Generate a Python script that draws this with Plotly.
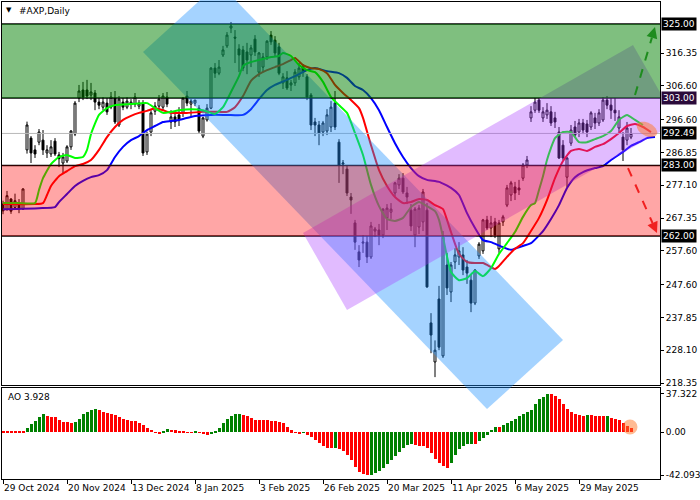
import math
import plotly.graph_objects as go

# ---------------- data ----------------
date_labels = ["29 Oct 2024", "20 Nov 2024", "13 Dec 2024", "8 Jan 2025", "3 Feb 2025",
               "26 Feb 2025", "20 Mar 2025", "11 Apr 2025", "6 May 2025", "29 May 2025"]
label_bars = [0, 16, 32, 48, 64, 80, 96, 112, 128, 144]

opens = [271.5, 269.9, 273.0, 270.5, 271.5, 270.0, 287.6, 291.1, 287.6, 289.9,
         290.5, 286.7, 286.4, 290.2, 286.1, 283.7, 284.3, 288.5, 292.3, 303.0,
         305.4, 305.4, 303.9, 304.5, 301.8, 300.3, 301.5, 300.3, 303.0, 295.0,
         301.8, 300.3, 301.2, 301.2, 300.6, 301.5, 287.0, 292.9, 299.1, 300.6,
         300.3, 303.3, 295.9, 297.4, 298.0, 298.6, 303.6, 301.2, 301.5, 300.0,
         291.7, 296.5, 300.0, 311.9, 310.4, 315.8, 318.5, 323.8, 321.1, 317.6,
         317.3, 316.7, 315.8, 320.5, 310.7, 312.2, 315.2, 321.7, 320.2, 318.2,
         307.5, 309.0, 306.9, 307.5, 309.3, 312.2, 309.3, 303.9, 295.9, 295.0,
         292.9, 293.2, 294.4, 301.5, 289.9, 283.4, 281.9, 273.6, 265.9, 257.3,
         259.9, 260.2, 255.8, 263.5, 263.8, 262.3, 267.4, 269.1, 274.8, 277.2,
         279.2, 274.8, 269.7, 262.3, 264.7, 266.2, 269.7, 236.2, 224.6, 243.3,
         226.4, 253.4, 245.4, 254.3, 255.8, 256.4, 252.8, 248.9, 242.1, 256.1,
         257.6, 266.8, 264.4, 266.2, 258.2, 266.2, 271.2, 274.2, 276.6, 276.3,
         279.2, 283.1, 297.1, 299.4, 302.4, 297.1, 298.0, 298.9, 297.1, 292.9,
         289.0, 279.5, 289.6, 294.4, 292.9, 295.6, 295.3, 294.4, 297.1, 295.6,
         296.5, 302.4, 300.9, 299.4, 294.1, 291.4, 290.5, 291.4]
highs = [272.5, 275.4, 273.3, 274.6, 273.0, 276.2, 296.0, 291.7, 289.0, 293.8,
         293.5, 289.0, 290.5, 291.1, 287.0, 286.7, 289.0, 293.5, 302.1, 306.9,
         307.8, 308.4, 307.5, 305.4, 303.0, 303.3, 303.0, 304.8, 305.1, 303.6,
         303.0, 303.3, 302.7, 304.5, 302.4, 302.4, 293.0, 299.4, 301.8, 303.9,
         304.5, 304.8, 299.4, 298.9, 300.3, 303.3, 305.1, 302.7, 302.4, 300.9,
         297.4, 301.2, 312.2, 313.4, 314.3, 318.5, 322.6, 325.6, 323.2, 319.0,
         318.5, 319.4, 318.8, 321.7, 316.7, 316.4, 320.2, 322.9, 321.4, 319.4,
         310.4, 311.0, 308.4, 311.6, 313.4, 313.1, 310.1, 304.5, 297.1, 296.2,
         296.2, 299.7, 302.1, 305.1, 290.8, 284.6, 283.1, 274.8, 266.8, 259.3,
         262.3, 262.0, 266.2, 264.7, 265.6, 270.3, 271.5, 271.8, 278.1, 280.4,
         280.7, 276.6, 271.5, 270.6, 271.2, 276.0, 271.8, 239.1, 231.0, 247.2,
         263.5, 257.0, 254.3, 258.4, 260.2, 258.7, 254.9, 250.7, 252.2, 260.2,
         267.1, 268.0, 268.0, 267.4, 266.8, 268.3, 277.2, 278.4, 278.1, 278.7,
         283.7, 285.8, 300.6, 303.0, 303.0, 300.3, 301.5, 300.6, 298.9, 294.4,
         290.5, 285.5, 295.0, 296.2, 296.8, 296.8, 296.5, 299.1, 298.6, 299.7,
         303.3, 303.6, 303.0, 303.0, 299.4, 292.9, 295.9, 294.1]
lows = [268.5, 269.5, 268.6, 270.0, 268.8, 269.8, 286.5, 283.7, 285.2, 289.0,
        286.1, 285.2, 285.5, 285.8, 282.5, 280.7, 283.7, 287.6, 291.7, 301.8,
        302.4, 302.7, 302.4, 299.4, 299.7, 299.4, 298.0, 299.7, 295.3, 294.4,
        299.4, 299.7, 299.7, 300.3, 299.7, 285.8, 286.1, 291.7, 298.0, 299.7,
        299.4, 300.3, 293.8, 294.4, 294.7, 297.4, 300.6, 297.4, 300.6, 292.6,
        291.1, 296.0, 299.7, 309.0, 309.8, 315.2, 317.9, 322.3, 313.4, 310.7,
        311.0, 310.1, 312.2, 315.5, 309.3, 310.7, 314.3, 318.8, 315.2, 309.8,
        305.7, 305.4, 305.1, 306.6, 308.4, 309.3, 302.4, 293.5, 291.7, 289.0,
        291.7, 292.0, 292.9, 293.5, 277.8, 280.4, 273.9, 268.6, 257.9, 252.8,
        257.0, 254.0, 255.2, 261.7, 259.3, 261.4, 263.8, 267.1, 273.9, 276.0,
        274.5, 271.5, 263.5, 258.7, 262.6, 263.5, 246.6, 227.2, 220.1, 228.1,
        225.8, 244.5, 242.4, 252.2, 253.4, 250.4, 247.8, 239.4, 241.5, 255.2,
        256.7, 263.8, 261.7, 261.4, 257.0, 265.0, 270.6, 272.4, 272.7, 274.2,
        278.4, 282.2, 295.9, 298.6, 298.6, 295.9, 296.8, 294.7, 294.1, 284.9,
        284.6, 276.6, 288.8, 291.4, 291.4, 292.3, 291.4, 293.5, 293.8, 294.7,
        295.9, 299.7, 296.8, 296.2, 292.9, 284.3, 289.0, 290.8]
closes = [269.5, 274.0, 269.4, 272.5, 270.3, 276.0, 295.0, 286.7, 286.4, 292.9,
          287.6, 287.6, 288.5, 286.4, 285.0, 285.5, 288.5, 293.2, 301.5, 305.1,
          303.3, 303.6, 304.8, 301.8, 300.9, 301.8, 298.9, 303.3, 295.9, 302.7,
          300.3, 302.1, 301.8, 303.3, 301.5, 286.7, 292.3, 298.6, 300.6, 302.7,
          303.6, 301.2, 297.4, 295.9, 296.5, 303.0, 301.5, 302.1, 302.4, 293.2,
          297.1, 300.0, 311.9, 310.4, 312.2, 317.3, 321.7, 324.4, 320.8, 315.8,
          311.9, 314.3, 317.9, 316.7, 316.4, 315.2, 319.9, 319.7, 316.4, 310.4,
          309.3, 306.0, 307.5, 310.7, 311.9, 310.7, 303.3, 295.0, 295.0, 292.6,
          295.6, 298.0, 300.3, 294.4, 283.1, 283.7, 274.8, 272.7, 260.2, 254.9,
          260.2, 255.8, 265.0, 264.1, 262.3, 270.0, 270.3, 270.0, 277.8, 279.2,
          275.1, 273.6, 265.0, 270.0, 270.3, 275.1, 246.9, 232.6, 228.1, 229.0,
          261.7, 246.6, 253.4, 256.4, 257.6, 251.9, 251.0, 242.1, 251.9, 259.6,
          266.8, 264.4, 265.9, 262.3, 265.9, 267.7, 276.3, 277.8, 274.8, 275.7,
          283.1, 284.6, 298.9, 301.8, 299.4, 298.9, 299.4, 295.6, 295.9, 285.2,
          285.2, 285.2, 293.5, 292.0, 295.6, 293.5, 292.9, 298.6, 295.6, 298.6,
          302.4, 300.9, 299.4, 298.6, 297.4, 287.6, 294.1, 292.49]

ao_values = [0.6, 0.5, 0.4, 0.3, 0.2, 0.1, 4.3, 7.7, 11.0, 14.3, 17.3,
             15.5, 15.2, 14.3, 12.0, 10.3, 9.5, 9.2, 10.3, 12.7, 17.3, 20.0, 21.7, 23.0,
             21.7, 19.7, 18.7, 17.7, 16.3, 14.3, 13.0, 12.0, 11.2, 11.0, 9.0, 7.3, 4.3, 2.0, -0.7, -1.7,
             1.0, 2.7, 2.0, 1.7, 0.7, 0.3, -0.2, -0.4, 0.8, -0.7, -1.7, -3.3,
             -1.7, 0.3, 4.3, 9.3, 13.3, 16.0, 17.3, 17.6,
             16.7, 15.3, 13.7, 12.2, 12.0, 11.8, 11.6, 11.2, 11.0, 10.0, 8.7, 5.0, 1.7, -0.7, -1.7,
             -0.7, -3.0, -5.0, -7.3, -10.7, -13.3, -15.7, -15.9, -15.6, -16.7, -19.0, -22.3,
             -27.7, -34.7, -38.7, -41.3, -42.093,
             -41.6, -40.5, -38.5, -35.0, -31.0, -27.5, -23.7, -19.3, -15.3, -12.7, -11.3,
             -12.7, -13.3, -13.7, -15.3, -20.3, -26.0, -30.3, -33.7, -35.3,
             -30.3, -22.7, -17.0, -13.7, -12.0, -11.3, -11.5, -8.7, -6.0, -3.0, 2.3, 5.3, 5.1,
             7.0, 8.7, 10.7, 13.0, 15.3, 18.0, 19.7, 22.0, 27.3, 32.0, 34.7, 37.322,
             37.0, 35.3, 32.3, 28.0, 23.0, 19.7, 17.3, 16.3, 16.1, 16.6,
             16.3, 16.2, 15.7, 15.3, 15.7, 14.0, 13.0, 12.0, 9.0, 6.3, 3.928]

lips_bar = [0, 4, 8, 9, 10, 12, 14, 16, 18, 20, 21, 22, 24, 26, 28, 32, 36, 38, 40, 42, 44, 47, 50, 53, 55,
            57, 59, 60, 62, 65, 67, 69, 70, 72, 74, 76, 78, 80, 82, 84, 86, 88, 90, 92, 94, 96, 98, 100,
            102, 104, 106, 108, 109, 110, 112, 114, 116, 118, 120, 122, 124, 126, 128, 130, 132, 133,
            134, 135, 136, 137, 138, 140, 142, 144, 146, 148, 150, 152, 154, 156, 158, 160]
lips_val = [271.8, 271.8, 271.8, 275.7, 279.2, 283.4, 285.5, 286.1, 285.2, 285.5, 287.6, 292.3, 298.0,
            300.0, 300.9, 301.2, 301.5, 300.0, 298.6, 298.9, 299.4, 299.7, 299.4, 298.3, 300.3, 304.8,
            309.5, 312.5, 313.7, 314.6, 315.2, 315.5, 316.4, 315.5, 312.8, 311.3, 310.7, 307.8, 303.3,
            300.9, 298.6, 292.6, 286.1, 277.2, 270.9, 267.1, 266.5, 267.4, 270.6, 272.1, 270.9, 269.4,
            266.8, 261.7, 251.3, 248.9, 249.5, 251.6, 250.1, 252.5, 256.7, 259.9, 263.2, 267.7, 271.2,
            271.8, 275.7, 279.8, 284.6, 288.2, 291.1, 292.9, 292.9, 289.9, 289.9, 290.8, 291.7, 293.2,
            296.5, 298.0, 296.5, 295.0]

teeth_bar = [0, 8, 10, 11, 12, 14, 16, 18, 20, 22, 24, 26, 28, 30, 32, 34, 36, 38, 40, 42, 46, 50, 54, 56,
             58, 60, 62, 64, 66, 68, 70, 72, 73, 75, 77, 79, 81, 83, 85, 87, 89, 90, 92, 94, 96, 98, 100,
             102, 104, 106, 108, 110, 111, 112, 114, 116, 118, 120, 122, 123, 124, 126, 128, 130, 132,
             134, 136, 138, 140, 142, 144, 146, 148, 150, 152, 154, 156, 158, 160, 162]
teeth_val = [271.5, 271.5, 271.8, 274.2, 276.9, 279.8, 281.3, 282.8, 283.4, 284.6, 287.6, 291.4, 294.4,
             296.5, 297.7, 298.6, 299.2, 300.0, 299.4, 298.6, 298.6, 298.9, 298.9, 298.9, 300.3, 303.6,
             308.1, 310.1, 311.3, 312.2, 313.1, 314.3, 314.9, 312.8, 311.9, 311.6, 310.4, 306.9, 304.5,
             302.4, 300.0, 297.1, 289.0, 281.6, 276.9, 273.6, 271.8, 272.1, 273.0, 272.7, 271.2, 270.0,
             266.8, 263.2, 256.7, 254.3, 254.0, 254.0, 252.8, 252.2, 253.1, 255.8, 258.2, 259.9, 263.5,
             267.4, 272.7, 279.2, 284.3, 287.3, 287.9, 287.3, 288.5, 289.3, 290.8, 292.6, 294.7, 295.3,
             294.4, 292.9]

jaw_bar = [0, 9, 13, 14, 16, 18, 20, 22, 24, 26, 28, 30, 32, 34, 36, 38, 40, 42, 44, 48, 52, 56, 60, 62,
           64, 66, 68, 71, 73, 76, 78, 81, 84, 86, 88, 90, 92, 94, 96, 98, 100, 102, 104, 106, 109, 112,
           114, 116, 118, 120, 122, 125, 127, 129, 132, 135, 137, 139, 141, 143, 145, 148, 150, 152, 155,
           157, 159, 161, 163]
jaw_val = [270.0, 270.3, 270.6, 272.1, 274.5, 276.9, 278.4, 279.5, 280.1, 281.6, 285.5, 288.5, 290.5,
           291.7, 293.5, 294.7, 295.9, 296.2, 296.5, 297.7, 298.0, 298.0, 298.0, 299.7, 302.7, 305.4,
           306.9, 308.4, 309.5, 311.3, 311.9, 311.0, 310.4, 309.0, 306.6, 305.4, 303.0, 299.4, 294.4,
           289.6, 285.5, 282.2, 279.8, 278.7, 278.1, 276.3, 274.2, 268.8, 264.4, 260.8, 260.2, 258.7,
           257.9, 258.7, 259.9, 263.5, 267.1, 271.2, 276.3, 279.5, 281.0, 282.2, 282.8, 284.6, 287.0,
           288.8, 289.9, 291.1, 291.4]

resistance_zone = [303.0, 325.0]
support_zone = [262.0, 283.0]
last_price = 292.49
price_ticks = [316.35, 306.60, 296.60, 286.85, 277.10, 267.35, 257.60, 247.60, 237.85, 228.10, 218.35]
ao_ticks = [37.322, 0.0, -42.093]
ao_ticktext = ["37.322", "0.00", "-42.093"]

# channel drawings (bar index, price)
down_channel = [(35, 316.7), (121, 210.6), (140, 231.1), (54, 337.2)]
up_channel = [(75, 262.9), (86, 240.0), (168.5, 295.9), (157.5, 318.8)]
up_arrow = [(158, 303.9), (163, 324.1)]
down_arrow = [(156.25, 282.2), (163.5, 262.9)]
ellipse_center = (161.0, 293.7)
ao_marker = (156.75, 5.0)

# ---------------- layout constants ----------------
X_RANGE = [-0.25, 164.25]
Y_RANGE = [217.76, 331.54]
AO_RANGE = [-46.0, 43.2]
MAIN_DOM = [0.1971, 1.0]
AO_DOM = [0.0, 0.1908]
PXB = 658.0 / (X_RANGE[1] - X_RANGE[0])                 # pixels per bar
PXP = 383.0 / (Y_RANGE[1] - Y_RANGE[0])                 # pixels per price unit
PXA = 91.0 / (AO_RANGE[1] - AO_RANGE[0])                # pixels per AO unit
FONT = "DejaVu Sans"

n = len(closes)
bars = list(range(n))


def to_paper(b, p):
    px = (b - X_RANGE[0]) / (X_RANGE[1] - X_RANGE[0])
    py = MAIN_DOM[0] + (p - Y_RANGE[0]) / (Y_RANGE[1] - Y_RANGE[0]) * (MAIN_DOM[1] - MAIN_DOM[0])
    return px, py


def path_from(points):
    return "M " + " L ".join(f"{x:.4f},{y:.4f}" for x, y in points) + " Z"


fig = go.Figure()

fig.add_trace(go.Candlestick(
    x=bars, open=opens, high=highs, low=lows, close=closes,
    increasing=dict(line=dict(color="black", width=1), fillcolor="white"),
    decreasing=dict(line=dict(color="black", width=1), fillcolor="black"),
    whiskerwidth=0, xaxis="x", yaxis="y", hoverinfo="skip"))

for bx, vals, col in [(jaw_bar, jaw_val, "#0000FF"), (teeth_bar, teeth_val, "#FF0000"),
                      (lips_bar, lips_val, "#00FF00")]:
    fig.add_trace(go.Scatter(x=bx, y=vals, mode="lines", xaxis="x", yaxis="y",
                             line=dict(color=col, width=2, shape="spline", smoothing=0.5),
                             hoverinfo="skip"))

ao_colors = ["#FF0000"] + ["#008000" if ao_values[i] > ao_values[i - 1] else "#FF0000"
                           for i in range(1, n)]
fig.add_trace(go.Bar(x=bars, y=ao_values, marker=dict(color=ao_colors, line=dict(width=0)),
                     width=0.75, xaxis="x2", yaxis="y2", hoverinfo="skip"))

shapes = []
# horizontal levels
for lvl in [resistance_zone[1], resistance_zone[0], support_zone[1], support_zone[0]]:
    shapes.append(dict(type="line", xref="paper", yref="y", x0=0, x1=1, y0=lvl, y1=lvl,
                       line=dict(color="black", width=1.5), layer="above"))
shapes.append(dict(type="line", xref="paper", yref="y", x0=0, x1=1, y0=last_price, y1=last_price,
                   line=dict(color="#B8B8B8", width=1), layer="above"))
# falling channel (spans into the oscillator pane)
shapes.append(dict(type="path", xref="paper", yref="paper",
                   path=path_from([to_paper(b, p) for b, p in down_channel]),
                   fillcolor="rgba(30,144,255,0.4)", line=dict(width=0), layer="above"))
# rising channel
shapes.append(dict(type="path", xref="x", yref="y", path=path_from(up_channel),
                   fillcolor="rgba(170,60,255,0.35)", line=dict(width=0), layer="above"))
# zones
shapes.append(dict(type="rect", xref="paper", yref="y", x0=0, x1=1,
                   y0=resistance_zone[0], y1=resistance_zone[1],
                   fillcolor="rgba(0,128,0,0.5)", line=dict(width=0), layer="above"))
shapes.append(dict(type="rect", xref="paper", yref="y", x0=0, x1=1,
                   y0=support_zone[0], y1=support_zone[1],
                   fillcolor="rgba(255,0,0,0.35)", line=dict(width=0), layer="above"))


def arrow_shapes(start, tip, color):
    sx0, sy0 = start[0] * PXB, -start[1] * PXP
    sx1, sy1 = tip[0] * PXB, -tip[1] * PXP
    L = math.hypot(sx1 - sx0, sy1 - sy0)
    ux, uy = (sx1 - sx0) / L, (sy1 - sy0) / L
    hl, hw = 11.0, 5.5
    cx, cy = sx1 - ux * hl, sy1 - uy * hl
    nx, ny = -uy, ux
    back = lambda x, y: (x / PXB, -y / PXP)
    cb, cp = back(cx, cy)
    tri = [back(sx1, sy1), back(cx + nx * hw, cy + ny * hw), back(cx - nx * hw, cy - ny * hw)]
    return [dict(type="line", xref="x", yref="y", x0=start[0], y0=start[1], x1=cb, y1=cp,
                 line=dict(color=color, width=2, dash="dash"), layer="above"),
            dict(type="path", xref="x", yref="y", path=path_from(tri), fillcolor=color,
                 line=dict(width=0), layer="above")]


shapes += arrow_shapes(up_arrow[0], up_arrow[1], "#1E8C1E")
shapes += arrow_shapes(down_arrow[0], down_arrow[1], "#F02020")

# highlight ellipse at the end of the lines
ecx, ecy = ellipse_center[0] * PXB, -ellipse_center[1] * PXP
a_ax, b_ax, th = 11.0, 6.5, math.radians(28)
ell = []
for k in range(36):
    t = 2 * math.pi * k / 36
    ex = ecx + a_ax * math.cos(t) * math.cos(th) - b_ax * math.sin(t) * math.sin(th)
    ey = ecy + a_ax * math.cos(t) * math.sin(th) + b_ax * math.sin(t) * math.cos(th)
    ell.append((ex / PXB, -ey / PXP))
shapes.append(dict(type="path", xref="x", yref="y", path=path_from(ell),
                   fillcolor="rgba(255,120,40,0.5)", line=dict(width=0), layer="above"))
rb, ra = 7.5 / PXB, 7.5 / PXA
shapes.append(dict(type="circle", xref="x2", yref="y2",
                   x0=ao_marker[0] - rb, x1=ao_marker[0] + rb,
                   y0=ao_marker[1] - ra, y1=ao_marker[1] + ra,
                   fillcolor="rgba(255,120,40,0.5)", line=dict(width=0), layer="above"))

annotations = [
    dict(xref="paper", yref="paper", x=(4 - 2) / 658, y=(479 - 10) / 477, text="▼",
         showarrow=False, xanchor="left", yanchor="middle", font=dict(size=7, color="black", family=FONT)),
    dict(xref="paper", yref="paper", x=(17 - 2) / 658, y=(479 - 11) / 477, text="#AXP,Daily",
         showarrow=False, xanchor="left", yanchor="middle", font=dict(size=9, color="black", family=FONT)),
    dict(xref="paper", yref="paper", x=(6 - 2) / 658, y=(479 - 397) / 477, text="AO 3.928",
         showarrow=False, xanchor="left", yanchor="middle", font=dict(size=9, color="black", family=FONT)),
]
for lvl, bg in [(resistance_zone[1], "black"), (resistance_zone[0], "#2A0A3A"),
                (last_price, "black"), (support_zone[1], "black"), (support_zone[0], "black")]:
    annotations.append(dict(xref="paper", yref="y", x=1, y=lvl, text=f"{lvl:.2f}", showarrow=False,
                            xanchor="left", yanchor="middle", xshift=1, bgcolor=bg, borderpad=1,
                            font=dict(size=9, color="white", family=FONT)))

axis_common = dict(showgrid=False, zeroline=False, showline=True, mirror=True,
                   linecolor="black", linewidth=1, tickcolor="black", automargin=False,
                   tickfont=dict(size=9, color="black", family=FONT))

fig.update_layout(
    width=700, height=500,
    margin=dict(l=2, r=40, t=2, b=21, autoexpand=False),
    paper_bgcolor="white", plot_bgcolor="white",
    showlegend=False, hovermode=False,
    font=dict(family=FONT, size=9, color="black"),
    xaxis=dict(domain=[0, 1], anchor="y", range=X_RANGE, showticklabels=False, ticks="",
               rangeslider=dict(visible=False), **axis_common),
    yaxis=dict(domain=MAIN_DOM, anchor="x", range=Y_RANGE, side="right",
               tickvals=price_ticks, ticktext=[f"{v:.2f}" for v in price_ticks],
               ticks="outside", ticklen=3, **axis_common),
    xaxis2=dict(domain=[0, 1], anchor="y2", range=X_RANGE, tickvals=label_bars, ticktext=date_labels,
                ticks="outside", ticklen=4, tickangle=0, ticklabelposition="outside right",
                **axis_common),
    yaxis2=dict(domain=AO_DOM, anchor="x2", range=AO_RANGE, side="right",
                tickvals=ao_ticks, ticktext=ao_ticktext, ticks="outside", ticklen=3, **axis_common),
    shapes=shapes,
    annotations=annotations,
    bargap=0,
)

fig.write_html("out.html", config={"displayModeBar": False},
               post_script="document.body.style.margin='0px';document.body.style.overflow='hidden';")
